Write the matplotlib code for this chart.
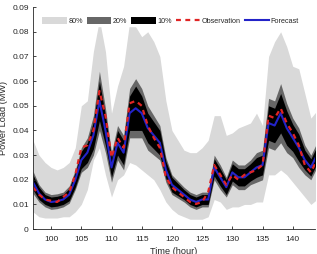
import numpy as np
import matplotlib
matplotlib.use('Agg')
import matplotlib.pyplot as plt
from matplotlib.patches import Patch
from matplotlib.lines import Line2D

plt.rcParams['font.family'] = ['Liberation Sans', 'DejaVu Sans']

# Hourly time axis
hours = list(range(97, 145))

# Point forecast and observed load (MW)
forecast = [0.019, 0.0145, 0.012, 0.011, 0.0113, 0.012, 0.014, 0.020, 0.028, 0.031,
            0.038, 0.052, 0.040, 0.025, 0.035, 0.031, 0.047, 0.049, 0.047, 0.041,
            0.038, 0.035, 0.024, 0.018, 0.016, 0.014, 0.012, 0.011, 0.012, 0.012,
            0.025, 0.021, 0.017, 0.023, 0.021, 0.021, 0.023, 0.025, 0.026, 0.043,
            0.042, 0.047, 0.041, 0.037, 0.033, 0.028, 0.025, 0.030]
observation = [0.017, 0.014, 0.012, 0.0115, 0.011, 0.013, 0.015, 0.022, 0.033, 0.034,
               0.040, 0.056, 0.046, 0.029, 0.037, 0.033, 0.051, 0.052, 0.050, 0.042,
               0.037, 0.033, 0.021, 0.017, 0.015, 0.013, 0.011, 0.0102, 0.011, 0.015,
               0.026, 0.022, 0.018, 0.022, 0.020, 0.022, 0.023, 0.024, 0.026, 0.046,
               0.045, 0.049, 0.043, 0.039, 0.034, 0.026, 0.023, 0.028]

# 80% interval bounds
upper80 = [0.036, 0.030, 0.027, 0.025, 0.024, 0.025, 0.027, 0.033, 0.050, 0.052,
           0.072, 0.085, 0.072, 0.047, 0.058, 0.066, 0.084, 0.082, 0.078, 0.080,
           0.076, 0.070, 0.052, 0.040, 0.036, 0.032, 0.031, 0.031, 0.033, 0.036,
           0.046, 0.046, 0.038, 0.039, 0.041, 0.042, 0.043, 0.047, 0.042, 0.070,
           0.076, 0.080, 0.074, 0.066, 0.065, 0.055, 0.045, 0.048]
lower80 = [0.007, 0.005, 0.0045, 0.0045, 0.0045, 0.005, 0.005, 0.007, 0.010, 0.016,
           0.028, 0.033, 0.022, 0.013, 0.020, 0.022, 0.027, 0.026, 0.024, 0.022,
           0.020, 0.016, 0.011, 0.008, 0.006, 0.005, 0.004, 0.004, 0.004, 0.005,
           0.012, 0.011, 0.008, 0.009, 0.009, 0.010, 0.010, 0.011, 0.011, 0.022,
           0.022, 0.024, 0.022, 0.019, 0.016, 0.013, 0.010, 0.012]

# half widths of the 20% and 10% intervals around the forecast
width20 = [0.0045, 0.0035, 0.003, 0.003, 0.003, 0.003, 0.0035, 0.004, 0.005, 0.006,
           0.008, 0.012, 0.009, 0.006, 0.007, 0.007, 0.010, 0.012, 0.010, 0.009,
           0.008, 0.007, 0.005, 0.004, 0.0035, 0.003, 0.003, 0.003, 0.003, 0.003,
           0.005, 0.005, 0.004, 0.005, 0.005, 0.005, 0.005, 0.006, 0.006, 0.010,
           0.010, 0.012, 0.010, 0.008, 0.008, 0.006, 0.005, 0.005]
width10 = [0.003, 0.0025, 0.002, 0.002, 0.002, 0.002, 0.0025, 0.003, 0.0035, 0.004,
           0.0055, 0.008, 0.006, 0.004, 0.005, 0.005, 0.007, 0.009, 0.007, 0.006,
           0.0055, 0.005, 0.0035, 0.003, 0.0025, 0.002, 0.002, 0.002, 0.002, 0.002,
           0.0035, 0.0035, 0.003, 0.0035, 0.0035, 0.0035, 0.0035, 0.004, 0.004, 0.007,
           0.007, 0.008, 0.007, 0.0055, 0.0055, 0.004, 0.0035, 0.0035]

t = np.array(hours)
fc = np.array(forecast)
w20 = np.array(width20)
w10 = np.array(width10)

light = '#d9d9d9'
dark = '#676767'
red = '#e02424'
blue = '#2323c8'
txt = '#262626'

fig = plt.figure(figsize=(3.17, 2.54), dpi=100)
ax = fig.add_axes([0.104, 0.098, 0.89, 0.874])

ax.fill_between(t, lower80, upper80, color=light, lw=0)
ax.fill_between(t, fc - w20, fc + w20, color=dark, lw=0)
ax.fill_between(t, fc - w10, fc + w10, color='black', lw=0)
ax.plot(t, fc, color=blue, lw=1.5)
ax.plot(t, observation, color=red, lw=1.6, dashes=(2.2, 2.0))

ax.set_xlim(97, 143.7)
ax.set_ylim(0, 0.09)
ax.set_xticks(range(100, 145, 5))
ax.set_yticks(np.arange(0, 0.091, 0.01))
ax.set_yticklabels(['0'] + ['%.2f' % v for v in np.arange(0.01, 0.091, 0.01)])

for side in ['top', 'right']:
    ax.spines[side].set_visible(False)
for side in ['left', 'bottom']:
    ax.spines[side].set_color(txt)
    ax.spines[side].set_linewidth(0.6)
ax.tick_params(direction='in', length=2.5, width=0.6, colors=txt, labelsize=6)
ax.tick_params(axis='x', pad=5)
ax.tick_params(axis='y', pad=3)

ax.set_xlabel('Time (hour)', fontsize=6.6, color=txt, labelpad=2.5)
ax.set_ylabel('Power Load (MW)', fontsize=6.6, color=txt, labelpad=3)

handles = [Patch(facecolor=light, edgecolor='none', label='80%'),
           Patch(facecolor=dark, edgecolor='none', label='20%'),
           Patch(facecolor='black', edgecolor='none', label='10%'),
           Line2D([], [], color=red, lw=1.6, dashes=(2.2, 2.0), label='Observation'),
           Line2D([], [], color=blue, lw=1.5, label='Forecast')]
leg = ax.legend(handles=handles, loc='center left', bbox_to_anchor=(0.028, 0.938),
                ncol=5, fontsize=5.2, frameon=True, facecolor='white', edgecolor='white',
                framealpha=1, fancybox=False, handlelength=3.4, handleheight=1.2,
                handletextpad=0.2, columnspacing=0.55, borderpad=0.2, borderaxespad=0)
for text in leg.get_texts():
    text.set_color(txt)

fig.savefig('out.png', dpi=100)
